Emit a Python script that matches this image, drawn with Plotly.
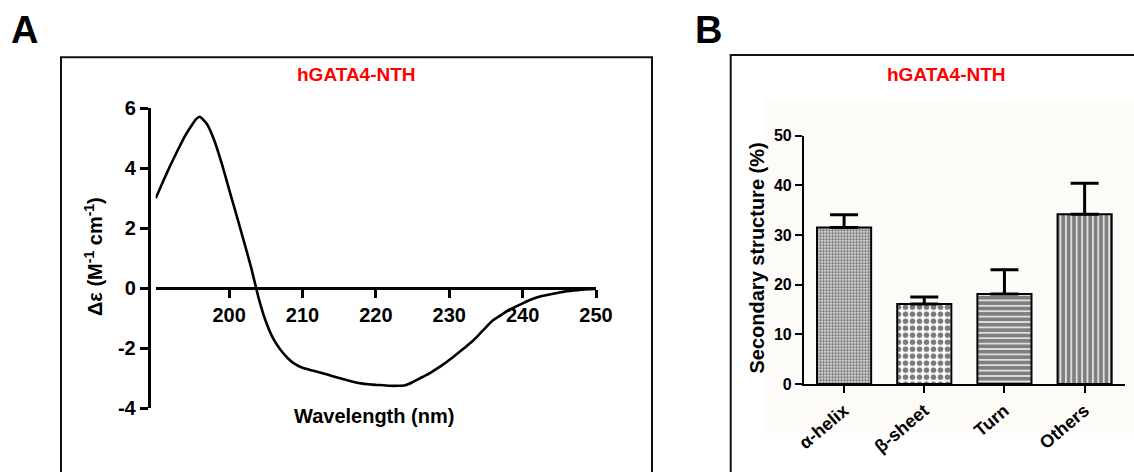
import plotly.graph_objects as go

# ---------------- data ----------------
# Panel A: CD spectrum (wavelength nm, delta epsilon)
wavelength = [190, 191, 192, 193, 194, 195, 195.5, 196, 197, 198, 199, 200, 201, 202, 203,
              204, 205, 206, 207, 208, 209, 210, 211, 212, 213, 214, 215, 216, 217, 218,
              219, 220, 221, 222, 223, 224, 225, 226, 227, 228, 229, 230, 231, 232, 233,
              234, 235, 236, 237, 238, 239, 240, 241, 242, 243, 244, 245, 246, 247, 248,
              249, 250]
delta_eps = [3.0, 3.56, 4.1, 4.6, 5.08, 5.47, 5.64, 5.72, 5.47, 4.92, 4.16, 3.3, 2.45, 1.58, 0.7,
             -0.3, -1.1, -1.67, -2.05, -2.33, -2.53, -2.65, -2.72, -2.78, -2.85, -2.92, -2.99,
             -3.06, -3.12, -3.17, -3.2, -3.22, -3.23, -3.25, -3.25, -3.23, -3.13, -3.0, -2.88,
             -2.73, -2.57, -2.39, -2.2, -2.0, -1.8, -1.56, -1.3, -1.06, -0.9, -0.74, -0.62,
             -0.5, -0.39, -0.3, -0.24, -0.19, -0.14, -0.1, -0.07, -0.05, -0.03, -0.02]
x_ticks_a = [200, 210, 220, 230, 240, 250]
y_ticks_a = [-4, -2, 0, 2, 4, 6]
y_ticktext_a = ["-4", "-2", "0", "2", "4", "6"]

# Panel B: secondary structure (%)
structures = ["α-helix", "β-sheet", "Turn", "Others"]
percent = [31.5, 16.1, 18.1, 34.2]
sd = [2.6, 1.4, 4.9, 6.2]
y_ticks_b = [0, 10, 20, 30, 40, 50]

title_text = "hGATA4-NTH"

# ---------------- figure ----------------
W, H = 1134, 472
def px(x):
    return x / W
def py(y):
    return 1 - y / H

FONT = "Liberation Sans, Arial, sans-serif"

fig = go.Figure()

fig.add_trace(go.Scatter(
    x=wavelength, y=delta_eps, mode="lines",
    line=dict(color="black", width=2.6, shape="spline", smoothing=0.5),
    xaxis="x", yaxis="y", showlegend=False, hoverinfo="skip"))

fig.add_trace(go.Bar(
    x=structures, y=percent, width=0.675,
    marker=dict(
        color="white",
        line=dict(color="black", width=2),
        pattern=dict(
            shape=[".", ".", "-", "|"],
            size=[3, 7, 5.4, 5.4],
            solidity=[0.55, 0.5, 0.28, 0.28],
            fgcolor=["#707070", "#7a7a7a", "#f2f2f2", "#f2f2f2"],
            bgcolor=["#f4f4f4", "white", "#7f7f7f", "#7f7f7f"],
            fillmode="replace")),
    error_y=dict(type="data", symmetric=False, array=sd, arrayminus=[0] * len(sd),
                 color="black", thickness=3, width=14),
    xaxis="x2", yaxis="y2", showlegend=False, hoverinfo="skip"))

axis_common = dict(showgrid=False, zeroline=False, showline=True, linecolor="black",
                   ticks="outside", tickcolor="black", automargin=False)

fig.update_layout(
    template="none",
    width=W, height=H, margin=dict(l=0, r=0, t=0, b=0, pad=0, autoexpand=False),
    paper_bgcolor="white", plot_bgcolor="rgba(0,0,0,0)",
    font=dict(family=FONT, color="black"),
    xaxis=dict(**axis_common, domain=[px(155.7), px(596)], range=[190, 250],
               anchor="free", position=py(288.3), linewidth=2.5, ticklen=8, tickwidth=2.5,
               tickvals=x_ticks_a,
               tickfont=dict(family=FONT, size=20, weight="bold", color="black")),
    yaxis=dict(**axis_common, domain=[py(408.3), py(108.3)], range=[-4, 6],
               anchor="free", position=px(148.5), linewidth=2.5, ticklen=8, tickwidth=2.5,
               tickvals=y_ticks_a, ticktext=y_ticktext_a,
               tickfont=dict(family=FONT, size=20, weight="bold", color="black")),
    xaxis2=dict(**axis_common, domain=[px(804), px(1124.7)], range=[-0.5, 3.5],
                type="category", anchor="y2", linewidth=2.2, ticklen=7, tickwidth=2.2,
                tickangle=-40,
                tickfont=dict(family=FONT, size=18, weight="bold", color="black")),
    yaxis2=dict(**axis_common, domain=[py(384), py(135.7)], range=[0, 50],
                anchor="x2", linewidth=2.2, ticklen=7, tickwidth=2.2,
                tickvals=y_ticks_b,
                tickfont=dict(family=FONT, size=16, weight="bold", color="black")),
    bargap=0.3,
)

# panel frames and faint background of panel B
fig.add_shape(type="rect", xref="paper", yref="paper", layer="below",
              x0=px(765), x1=px(1134), y0=py(433), y1=py(100),
              line=dict(width=0), fillcolor="#fcfbf8")
fig.add_shape(type="rect", xref="paper", yref="paper",
              x0=px(61), x1=px(652), y0=py(57.3), y1=py(490),
              line=dict(color="#111111", width=2))
fig.add_shape(type="rect", xref="paper", yref="paper",
              x0=px(730.7), x1=px(1150), y0=py(55), y1=py(490),
              line=dict(color="#111111", width=2))

def ann(text, x, y, size, color="black", angle=0):
    fig.add_annotation(text=text, x=px(x), y=py(y), xref="paper", yref="paper",
                       showarrow=False, xanchor="center", yanchor="middle",
                       textangle=angle,
                       font=dict(family=FONT, size=size, color=color, weight="bold"))

ann("A", 24, 30, 38)
ann("B", 708.5, 30, 38)
ann(title_text, 356, 74, 19, color="#ff0000")
ann(title_text, 946.5, 74, 19, color="#ff0000")
ann("Wavelength (nm)", 374, 415.5, 20)
ann("Δε (M<sup>-1</sup> cm<sup>-1</sup>)", 93, 257, 20, angle=-90)
ann("Secondary structure (%)", 756.5, 258, 20, angle=-90)

fig.write_html("out.html",
               config={"displayModeBar": False},
               post_script="document.body.style.margin='0';"
                           "document.body.style.overflow='hidden';")
